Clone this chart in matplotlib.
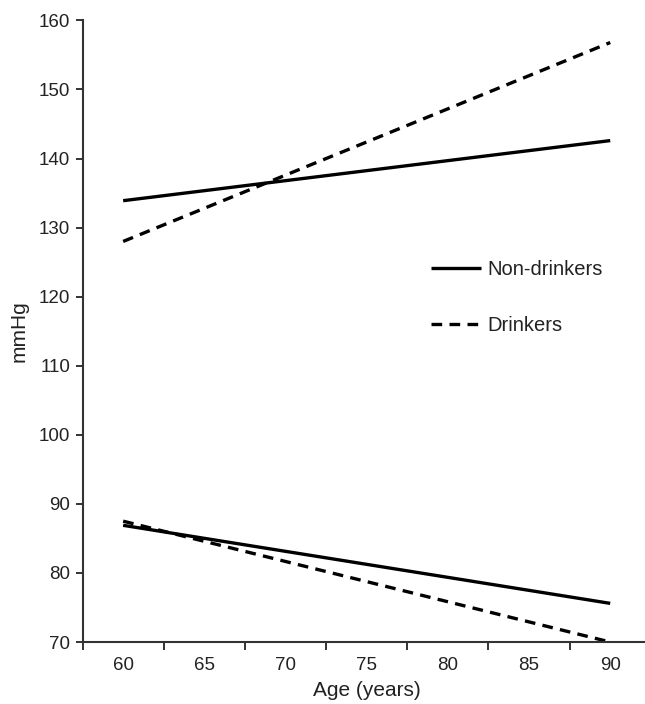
import numpy as np
import matplotlib.pyplot as plt

plt.rcParams['font.family'] = ['Liberation Sans', 'DejaVu Sans']

# age points and fitted blood pressure (mmHg)
age = [60, 90]
sys_non = [133.9, 142.6]
sys_drk = [128.0, 156.8]
dia_non = [86.9, 75.6]
dia_drk = [87.5, 70.0]

xlabels = ['60', '65', '70', '75', '80', '85', '90']
xpos = [60, 65, 70, 75, 80, 85, 90]

fig = plt.figure(figsize=(6.45, 7.04), dpi=100)
ax = fig.add_axes([0.128, 0.088, 0.881, 0.883])

dash = (0, (3.2, 2.2))
ax.plot(age, sys_non, color='black', lw=2.4, solid_capstyle='butt', label='Non-drinkers')
ax.plot(age, sys_drk, color='black', lw=2.4, linestyle=dash, label='Drinkers')
ax.plot(age, dia_non, color='black', lw=2.4, solid_capstyle='butt')
ax.plot(age, dia_drk, color='black', lw=2.4, linestyle=dash)

ax.set_xlim(57.5, 92.5)
ax.set_ylim(70, 160)
ax.set_yticks(np.arange(70, 161, 10))

# tick marks sit between the category labels
ax.set_xticks(np.arange(57.5, 93, 5))
ax.set_xticklabels([])
ax.set_xticks(xpos, minor=True)
ax.set_xticklabels(xlabels, minor=True)
ax.tick_params(axis='x', which='major', direction='out', length=6, width=1.4, color='#333333')
ax.tick_params(axis='x', which='minor', length=0, pad=11, labelsize=13.5, labelcolor='#222222')
ax.tick_params(axis='y', direction='out', length=5, width=1.4, color='#333333', pad=4,
               labelsize=13.5, labelcolor='#222222')

for s in ['top', 'right']:
    ax.spines[s].set_visible(False)
for s in ['left', 'bottom']:
    ax.spines[s].set_linewidth(1.5)
    ax.spines[s].set_color('#333333')

ax.set_xlabel('Age (years)', fontsize=15, color='#222222', labelpad=5)
ax.set_ylabel('mmHg', fontsize=15, color='#222222', labelpad=7)

ax.legend(loc='upper left', bbox_to_anchor=(0.613, 0.614), frameon=False,
          fontsize=14.5, handlelength=2.5, handletextpad=0.3, labelspacing=1.8,
          borderpad=0, borderaxespad=0, labelcolor='#222222')

fig.savefig('out.png', dpi=100)
